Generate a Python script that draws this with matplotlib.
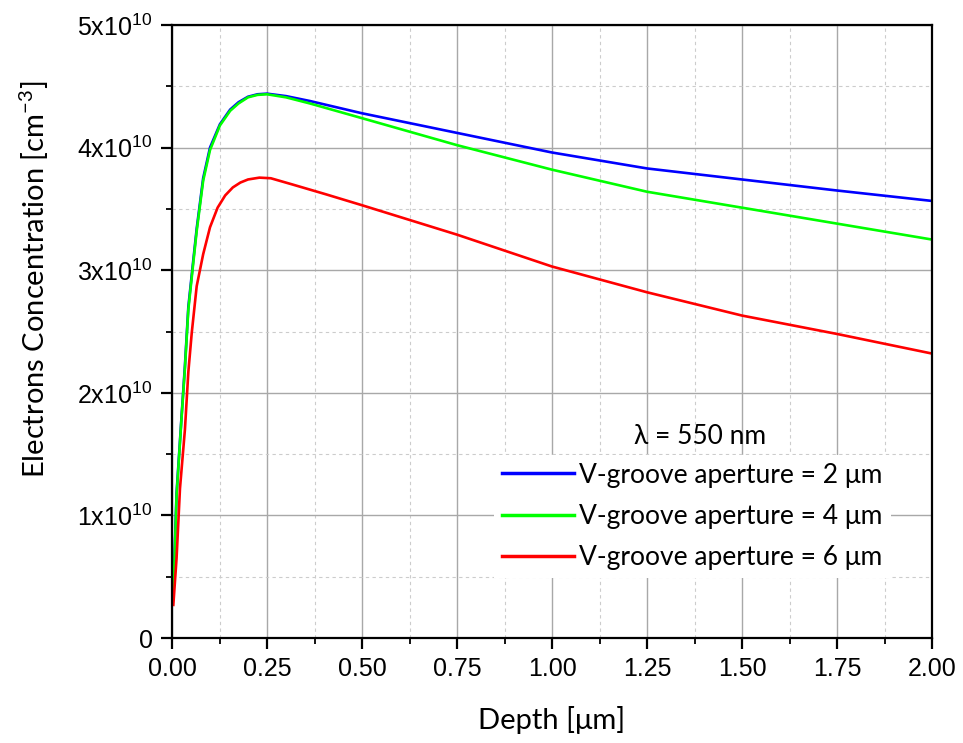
import numpy as np
import matplotlib.pyplot as plt
from matplotlib.ticker import MultipleLocator, FuncFormatter

# depth in um, concentration in units of 1e10 cm^-3
depth_b = [0.0035, 0.012, 0.025, 0.034, 0.043, 0.056, 0.065, 0.082, 0.10, 0.126,
           0.153, 0.175, 0.20, 0.225, 0.25, 0.30, 0.363, 0.50, 0.75, 1.00, 1.25,
           1.50, 1.75, 2.00]
conc_b = [0.38, 1.18, 1.80, 2.22, 2.70, 3.08, 3.34, 3.75, 4.00, 4.19,
          4.31, 4.37, 4.415, 4.435, 4.44, 4.42, 4.38, 4.28, 4.12, 3.96, 3.83,
          3.74, 3.65, 3.565]

depth_g = [0.0035, 0.012, 0.025, 0.034, 0.043, 0.056, 0.065, 0.082, 0.10, 0.126,
           0.153, 0.175, 0.20, 0.225, 0.25, 0.30, 0.363, 0.50, 0.75, 1.00, 1.25,
           1.50, 1.75, 2.00]
conc_g = [0.33, 1.16, 1.79, 2.20, 2.68, 3.06, 3.32, 3.73, 3.98, 4.18,
          4.30, 4.36, 4.41, 4.43, 4.435, 4.41, 4.36, 4.24, 4.02, 3.82, 3.64,
          3.51, 3.38, 3.25]

depth_r = [0.0035, 0.012, 0.021, 0.034, 0.043, 0.052, 0.065, 0.082, 0.10, 0.12,
           0.14, 0.16, 0.18, 0.20, 0.23, 0.26, 0.316, 0.404, 0.50, 0.75, 1.00,
           1.25, 1.50, 1.75, 2.00]
conc_r = [0.27, 0.65, 1.22, 1.70, 2.17, 2.49, 2.87, 3.13, 3.35, 3.51,
          3.61, 3.675, 3.715, 3.74, 3.755, 3.75, 3.70, 3.62, 3.53, 3.29, 3.03,
          2.82, 2.63, 2.48, 2.32]

labels = ['V-groove aperture = 2 \u03bcm', 'V-groove aperture = 4 \u03bcm',
          'V-groove aperture = 6 \u03bcm']
colors = ['#0000ff', '#00ff00', '#ff0000']

plt.rcParams['mathtext.default'] = 'regular'

fig = plt.figure(figsize=(9.63, 7.43), dpi=100)
ax = fig.add_axes([172 / 963, 1 - 638 / 743, 760 / 963, 613 / 743])

for d, c, col, lab in zip([depth_b, depth_g, depth_r], [conc_b, conc_g, conc_r], colors, labels):
    ax.plot(d, np.array(c) * 1e10, color=col, lw=1.9, label=lab)

ax.set_xlim(0, 2)
ax.set_ylim(0, 5e10)
ax.xaxis.set_major_locator(MultipleLocator(0.25))
ax.xaxis.set_minor_locator(MultipleLocator(0.125))
ax.yaxis.set_major_locator(MultipleLocator(1e10))
ax.yaxis.set_minor_locator(MultipleLocator(0.5e10))

def yfmt(v, pos):
    n = int(round(v / 1e10))
    return '0' if n == 0 else f'{n}x10$^{{10}}$'

ax.yaxis.set_major_formatter(FuncFormatter(yfmt))
ax.xaxis.set_major_formatter(FuncFormatter(lambda v, p: f'{v:.2f}'))

ax.grid(True, which='major', color='#a8a8a8', lw=1.0, ls='-')
ax.grid(True, which='minor', color='#cccccc', lw=0.8, ls=(0, (3, 3)))
ax.set_axisbelow(True)

for s in ax.spines.values():
    s.set_linewidth(1.6)
ax.tick_params(which='major', direction='out', length=8, width=1.6, labelsize=18, pad=6)
ax.tick_params(which='minor', direction='out', length=4, width=1.3)
for t in ax.get_xticklabels() + ax.get_yticklabels():
    t.set_family('Liberation Sans')

lab_font = dict(family=['Lato', 'DejaVu Sans'], fontsize=21)
ax.set_xlabel('Depth [\u03bcm]', labelpad=18, **lab_font)
ax.set_ylabel('Electrons Concentration [cm$^{-3}$]', **lab_font)
ax.yaxis.set_label_coords(-0.159, 0.586)

leg = ax.legend(loc='upper left', bbox_to_anchor=(0.424, 0.299), frameon=True,
                fancybox=False, framealpha=1, edgecolor='none', facecolor='white',
                prop={'family': ['Lato', 'DejaVu Sans'], 'size': 19},
                handlelength=2.73, handletextpad=0.2, labelspacing=0.62,
                borderpad=0.3, borderaxespad=0)
for ln in leg.get_lines():
    ln.set_linewidth(2.5)

ax.text(0.695, 0.328, '\u03bb = 550 nm', transform=ax.transAxes, ha='center', va='center',
        family=['Lato', 'DejaVu Sans'], fontsize=19)

fig.savefig('out.png', dpi=100)
